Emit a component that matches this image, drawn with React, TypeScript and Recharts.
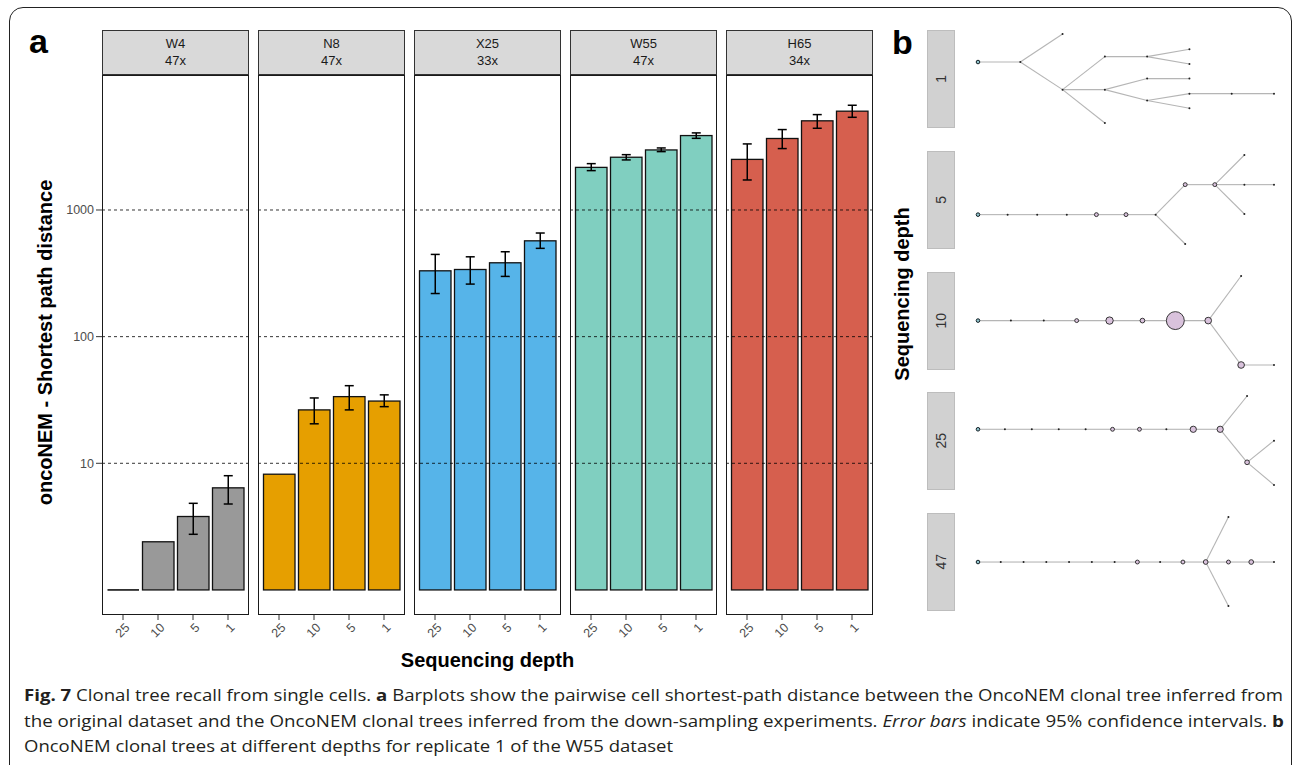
import React from "react";
import {
  BarChart,
  Bar,
  XAxis,
  YAxis,
  ErrorBar,
  ReferenceLine,
  ScatterChart,
  Scatter,
} from "recharts";

// ---- panel a data ----
const datasets = ["W4", "N8", "X25", "W55", "H65"];
const coverage = ["47x", "47x", "33x", "47x", "34x"];
const depths = ["25", "10", "5", "1"];
const meanDist = [
  [1, 2.4, 3.8, 6.4],
  [8.2, 26.4, 33.6, 31.0],
  [331, 339, 383, 571],
  [2170, 2610, 2980, 3870],
  [2510, 3670, 5060, 6030],
];
const ciLow = [
  [null, null, 2.75, 4.77],
  [null, 20.5, 26.4, 28.0],
  [219, 260, 299, 498],
  [2046, 2485, 2890, 3680],
  [1726, 3055, 4419, 5395],
];
const ciHigh = [
  [null, null, 4.83, 7.98],
  [null, 32.8, 41.0, 34.7],
  [446, 427, 468, 658],
  [2323, 2735, 3090, 4063],
  [3325, 4316, 5666, 6716],
];
const yTicks = [10, 100, 1000];
const yLimits = [0.634, 11640];
const barColors = ["#999999", "#E69F00", "#56B4E9", "#80CFC0", "#D65F4E"];

// ---- panel b data: nodes are [level, row (0 top .. 1 bottom), cells] ----
const treeDepths = ["1", "5", "10", "25", "47"];
const treeLevels = [7, 10, 9, 11, 13];
const treeNodes = [
  [
    [0, 0.315, 0], [1, 0.315, 0], [2, 0, 0], [2, 0.625, 0], [3, 0.254, 0],
    [4, 0.254, 0], [5, 0.172, 0], [5, 0.337, 0], [3, 0.625, 0], [4, 0.501, 0],
    [5, 0.501, 0], [4, 0.748, 0], [5, 0.67, 0], [6, 0.67, 0], [7, 0.67, 0],
    [5, 0.835, 0], [3, 1, 0],
  ],
  [
    [0, 0.67, 0], [1, 0.67, 0], [2, 0.67, 0], [3, 0.67, 0], [4, 0.67, 1],
    [5, 0.67, 1], [6, 0.67, 0], [7, 0.333, 1], [7, 1, 0], [8, 0.333, 1],
    [9, 0, 0], [9, 0.333, 0], [9, 0.663, 0], [10, 0.333, 0],
  ],
  [
    [0, 0.501, 0], [1, 0.501, 0], [2, 0.501, 0], [3, 0.501, 1], [4, 0.501, 8],
    [5, 0.501, 2], [6, 0.501, 70], [7, 0.501, 6], [8, 0, 0], [8, 1, 6],
    [9, 1, 0],
  ],
  [
    [0, 0.374, 0], [1, 0.374, 0], [2, 0.374, 0], [3, 0.374, 0], [4, 0.374, 0],
    [5, 0.374, 1], [6, 0.374, 1], [7, 0.374, 0], [8, 0.374, 5], [9, 0.374, 5],
    [10, 0, 0], [10, 0.745, 2], [11, 0.502, 0], [11, 1, 0],
  ],
  [
    [0, 0.506, 0], [1, 0.506, 0], [2, 0.506, 0], [3, 0.506, 0], [4, 0.506, 0],
    [5, 0.506, 0], [6, 0.506, 0], [7, 0.506, 1], [8, 0.506, 0], [9, 0.506, 1],
    [10, 0.506, 2], [11, 0, 0], [11, 0.506, 1], [11, 1, 0], [12, 0.506, 2],
    [13, 0.506, 0],
  ],
];
const treeEdges = [
  [[0, 1], [1, 2], [1, 3], [3, 4], [4, 5], [5, 6], [5, 7], [3, 8], [8, 9], [9, 10], [8, 11], [11, 12], [12, 13], [13, 14], [11, 15], [3, 16]],
  [[0, 1], [1, 2], [2, 3], [3, 4], [4, 5], [5, 6], [6, 7], [6, 8], [7, 9], [9, 10], [9, 11], [9, 12], [11, 13]],
  [[0, 1], [1, 2], [2, 3], [3, 4], [4, 5], [5, 6], [6, 7], [7, 8], [7, 9], [9, 10]],
  [[0, 1], [1, 2], [2, 3], [3, 4], [4, 5], [5, 6], [6, 7], [7, 8], [8, 9], [9, 10], [9, 11], [11, 12], [11, 13]],
  [[0, 1], [1, 2], [2, 3], [3, 4], [4, 5], [5, 6], [6, 7], [7, 8], [8, 9], [9, 10], [10, 11], [10, 12], [10, 13], [12, 14], [14, 15]],
];

const FONT = '"Liberation Sans", Arial, Helvetica, sans-serif';
const CAPTION_FONT = '"Open Sans", "Noto Sans", sans-serif';

const PANEL_W = 147;
const PANEL_H = 540;
const PANEL_TOP = 75;
const STRIP_H = 45;
const AXIS_W = 60;
const XAXIS_H = 50;
const panelLeft = (i: number) => 102 + i * 156;
const treeTops = [30, 151, 271.5, 392, 513];

function BarShape(props: any) {
  const { x, y, width, height, fill } = props;
  if (!height || height < 0.5) {
    return <line x1={x} x2={x + width} y1={y} y2={y} stroke="#000" strokeWidth={1.5} />;
  }
  return <rect x={x} y={y} width={width} height={height} fill={fill} stroke="#111" strokeWidth={1.3} />;
}

function DepthTick({ x, y, payload }: any) {
  return (
    <g transform={`translate(${x + 1},${y}) rotate(-45)`}>
      <text x={0} y={0} dy="0.72em" textAnchor="end" fill="#4d4d4d" fontSize={12.5} fontFamily={FONT}>
        {payload.value}
      </text>
    </g>
  );
}

const errKey = (d: any) => {
  const p = d && d.payload && d.payload.v !== undefined ? d.payload : d;
  if (p.lo == null) return null;
  return [p.v - p.lo, p.hi - p.v];
};

function Facet({ i }: { i: number }) {
  const data = depths.map((d, j) => ({
    depth: d,
    v: meanDist[i][j],
    lo: ciLow[i][j],
    hi: ciHigh[i][j],
  }));
  const first = i === 0;
  const yw = first ? AXIS_W : 0;
  const left = panelLeft(i);
  return (
    <>
      <div
        style={{
          position: "absolute",
          left,
          top: PANEL_TOP - STRIP_H,
          width: PANEL_W,
          height: STRIP_H,
          boxSizing: "border-box",
          background: "#d9d9d9",
          border: "1.3px solid #333",
          fontFamily: FONT,
          fontSize: 13,
          lineHeight: "17px",
          color: "#1a1a1a",
          textAlign: "center",
          paddingTop: 4,
        }}
      >
        {datasets[i]}
        <br />
        {coverage[i]}
      </div>
      <div style={{ position: "absolute", left: left - yw, top: PANEL_TOP }}>
        <BarChart
          width={PANEL_W + yw}
          height={PANEL_H + XAXIS_H}
          data={data}
          margin={{ top: 0, right: 0, bottom: 0, left: 0 }}
          barSize={31.5}
        >
          <XAxis
            dataKey="depth"
            type="category"
            padding={{ left: 3.5, right: 3.5 }}
            axisLine={false}
            tickLine={{ stroke: "#333" }}
            tickSize={5}
            tickMargin={2}
            tick={<DepthTick />}
            height={XAXIS_H}
            interval={0}
          />
          <YAxis
            hide={!first}
            width={AXIS_W}
            type="number"
            scale="log"
            domain={yLimits}
            allowDataOverflow
            ticks={yTicks}
            axisLine={false}
            tickSize={6}
            tickMargin={2}
            tick={{ fill: "#4d4d4d", fontSize: 12.5, fontFamily: FONT }}
            tickLine={{ stroke: "#333" }}
          />
          <Bar
            dataKey={(d: any) => [1, d.v]}
            fill={barColors[i]}
            shape={<BarShape />}
            isAnimationActive={false}
          >
            <ErrorBar dataKey={errKey} width={4.5} stroke="#000" strokeWidth={1.5} direction="y" />
          </Bar>
          {yTicks.map((t) => (
            <ReferenceLine key={t} y={t} stroke="#000" strokeDasharray="3 3" strokeWidth={0.8} />
          ))}
        </BarChart>
      </div>
      <div
        style={{
          position: "absolute",
          left,
          top: PANEL_TOP,
          width: PANEL_W,
          height: PANEL_H,
          boxSizing: "border-box",
          border: "1.4px solid #1a1a1a",
          pointerEvents: "none",
        }}
      />
    </>
  );
}

function NodeShape(props: any) {
  const { cx, cy, payload } = props;
  if (cx == null || cy == null) return <g />;
  if (payload.root) {
    return <circle cx={cx} cy={cy} r={1.8} fill="#8fc4cc" stroke="#142026" strokeWidth={1} />;
  }
  if (!payload.cells) {
    return <circle cx={cx} cy={cy} r={1} fill="#222" />;
  }
  const r = 1 + 0.95 * Math.sqrt(payload.cells);
  return <circle cx={cx} cy={cy} r={r} fill="#d9c2dc" stroke="#222" strokeWidth={0.9} />;
}

function TreeFacet({ k }: { k: number }) {
  const maxLv = treeLevels[k];
  const nodes = treeNodes[k].map(([lv, y, cells], idx) => ({
    x: lv / maxLv,
    y,
    cells,
    root: idx === 0,
  }));
  return (
    <>
      <div
        style={{
          position: "absolute",
          left: 927,
          top: treeTops[k],
          width: 28,
          height: 98,
          boxSizing: "border-box",
          background: "#d1d1d1",
          border: "1px solid #bdbdbd",
          display: "flex",
          alignItems: "center",
          justifyContent: "center",
        }}
      >
        <span
          style={{
            writingMode: "vertical-rl",
            transform: "rotate(180deg)",
            fontFamily: FONT,
            fontSize: 14,
            color: "#333",
          }}
        >
          {treeDepths[k]}
        </span>
      </div>
      <div style={{ position: "absolute", left: 960, top: treeTops[k] }}>
        <ScatterChart width={330} height={98} margin={{ top: 4, right: 16, bottom: 5, left: 18 }}>
          <XAxis type="number" dataKey="x" domain={[0, 1]} hide />
          <YAxis type="number" dataKey="y" domain={[0, 1]} reversed hide />
          {treeEdges[k].map(([a, b], e) => (
            <Scatter
              key={e}
              data={[nodes[a], nodes[b]]}
              line={{ stroke: "#b5b5b5", strokeWidth: 1.1 }}
              shape={() => <g />}
              isAnimationActive={false}
            />
          ))}
          <Scatter data={nodes} shape={<NodeShape />} isAnimationActive={false} />
        </ScatterChart>
      </div>
    </>
  );
}

const captionLines: [string, string][][] = [
  [
    ["Fig. 7", "b"],
    [" Clonal tree recall from single cells. ", ""],
    ["a", "b"],
    [" Barplots show the pairwise cell shortest-path distance between the OncoNEM clonal tree inferred from", ""],
  ],
  [
    ["the original dataset and the OncoNEM clonal trees inferred from the down-sampling experiments. ", ""],
    ["Error bars", "i"],
    [" indicate 95% confidence intervals. ", ""],
    ["b", "b"],
  ],
  [["OncoNEM clonal trees at different depths for replicate 1 of the W55 dataset", ""]],
];
const captionWidths = [1259, 1260, 649];
const captionBase = [700.5, 727, 751.5];

export default function App() {
  return (
    <div
      style={{
        position: "relative",
        width: 1295,
        height: 765,
        overflow: "hidden",
        background: "#fff",
      }}
    >
      <style>{"body{margin:0}"}</style>
      <div
        style={{
          position: "absolute",
          left: 9,
          top: 7,
          width: 1283,
          height: 800,
          boxSizing: "border-box",
          border: "1.5px solid #222",
          borderRadius: 14,
        }}
      />
      <svg
        width={1295}
        height={765}
        style={{ position: "absolute", left: 0, top: 0, pointerEvents: "none" }}
      >
        <text x={29} y={53} fontFamily={FONT} fontWeight="bold" fontSize={34} fill="#000">
          a
        </text>
        <text x={892} y={54} fontFamily={FONT} fontWeight="bold" fontSize={34} fill="#000">
          b
        </text>
        <text
          transform="translate(51.5,342.5) rotate(-90)"
          textAnchor="middle"
          fontFamily={FONT}
          fontWeight="bold"
          fontSize={20}
          fill="#000"
        >
          oncoNEM - Shortest path distance
        </text>
        <text
          x={487.5}
          y={667}
          textAnchor="middle"
          fontFamily={FONT}
          fontWeight="bold"
          fontSize={20}
          fill="#000"
        >
          Sequencing depth
        </text>
        <text
          transform="translate(909,294) rotate(-90)"
          textAnchor="middle"
          fontFamily={FONT}
          fontWeight="bold"
          fontSize={20}
          fill="#000"
        >
          Sequencing depth
        </text>
        {captionLines.map((line, li) => (
          <text
            key={li}
            x={24}
            y={captionBase[li]}
            textLength={captionWidths[li]}
            lengthAdjust="spacingAndGlyphs"
            fontFamily={CAPTION_FONT}
            fontSize={16}
            fill="#231f20"
          >
            {line.map(([t, s], si) => (
              <tspan
                key={si}
                fontWeight={s === "b" ? "bold" : "normal"}
                fontStyle={s === "i" ? "italic" : "normal"}
              >
                {t}
              </tspan>
            ))}
          </text>
        ))}
      </svg>
      {datasets.map((_, i) => (
        <Facet key={i} i={i} />
      ))}
      {treeDepths.map((_, k) => (
        <TreeFacet key={k} k={k} />
      ))}
    </div>
  );
}
